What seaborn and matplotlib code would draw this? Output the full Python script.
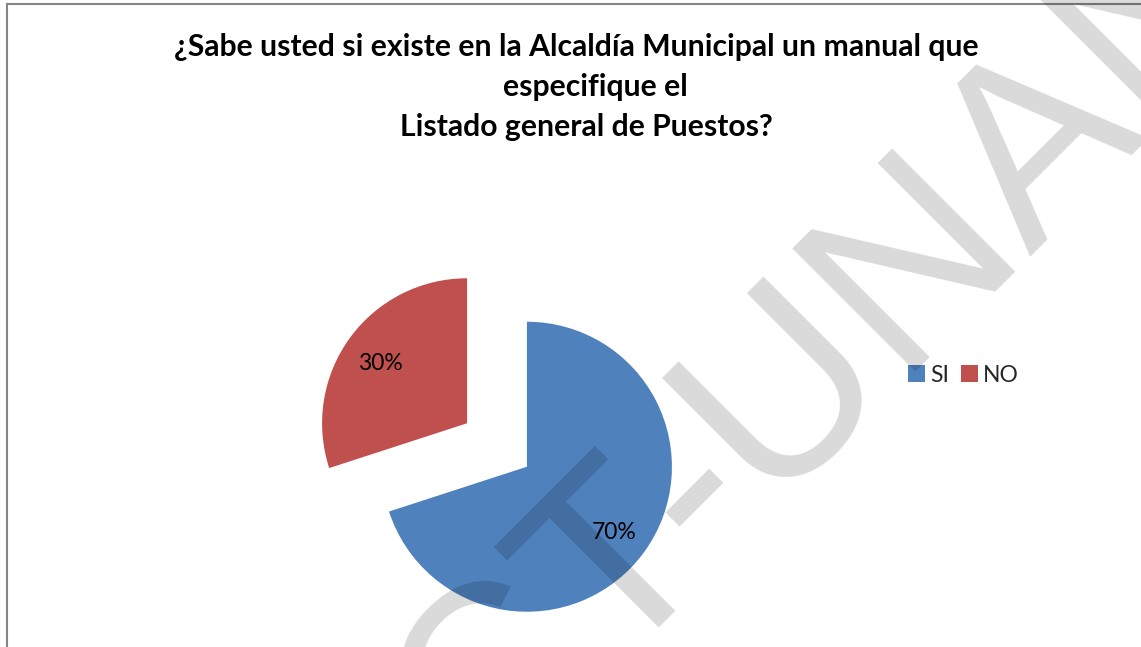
import matplotlib
matplotlib.use("Agg")
import matplotlib.pyplot as plt
from matplotlib.patches import Rectangle, Patch
import seaborn as sns

# Survey answers
categories = ["SI", "NO"]
percentages = [70, 30]
title_lines = [
    "¿Sabe usted si existe en la Alcaldía Municipal un manual que",
    "especifique el",
    "Listado general de Puestos?",
]
watermark = "CT-UNAN"

sns.set_theme(style="white")
plt.rcParams["font.family"] = ["Lato", "DejaVu Sans"]
colors = sns.color_palette(["#4F81BD", "#C0504D"])

W, H = 1141, 647
fig = plt.figure(figsize=(W / 100, H / 100), dpi=100)
fig.patch.set_facecolor("white")

# Pie axes: centre at (497, 445) px, radius 145 px
cx, cy, r = 497, 445, 145
box = 400
ax = fig.add_axes([(cx - box / 2) / W, (H - cy - box / 2) / H, box / W, box / H])
wedges, texts, autotexts = ax.pie(
    percentages,
    colors=colors,
    startangle=90,
    counterclock=False,
    explode=[0.255, 0.255],
    autopct="%1.0f%%",
    pctdistance=0.74,
    wedgeprops=dict(linewidth=0),
    textprops=dict(fontsize=16.5, color="black"),
)
lim = box / 2 / r
ax.set_xlim(-lim, lim)
ax.set_ylim(-lim, lim)
ax.set_aspect("equal")
ax.axis("off")
for t in autotexts:
    x, y = t.get_position()
    t.set_position((x, y - 0.02))

# Title, one line at a time
for txt, x, y in zip(title_lines, [576, 595, 586], [47, 87, 127]):
    fig.text(x / W, 1 - y / H, txt, ha="center", va="center",
             fontsize=21.7, fontweight="bold", color="black")

# Legend
handles = [Patch(facecolor=c, edgecolor="none") for c in colors]
fig.legend(handles, categories, loc="center left",
           bbox_to_anchor=(908 / W, 1 - 375 / H), ncol=2, frameon=False,
           fontsize=16.5, handlelength=0.75, handleheight=0.75,
           handletextpad=0.22, columnspacing=0.5, borderpad=0, borderaxespad=0)

# Chart area frame
fig.patches.append(Rectangle((7 / W, -0.1), 1.2, 1 - 4 / H + 0.1,
                             transform=fig.transFigure, fill=False,
                             edgecolor="#868686", linewidth=1.5, zorder=0))

# Diagonal watermark
fig.text(878 / W, 1 - 396 / H, watermark, rotation=45, rotation_mode="anchor",
         ha="center", va="baseline", fontsize=182, color="black", alpha=0.15,
         family="Liberation Sans", zorder=10)

fig.savefig("out.png", dpi=100)
